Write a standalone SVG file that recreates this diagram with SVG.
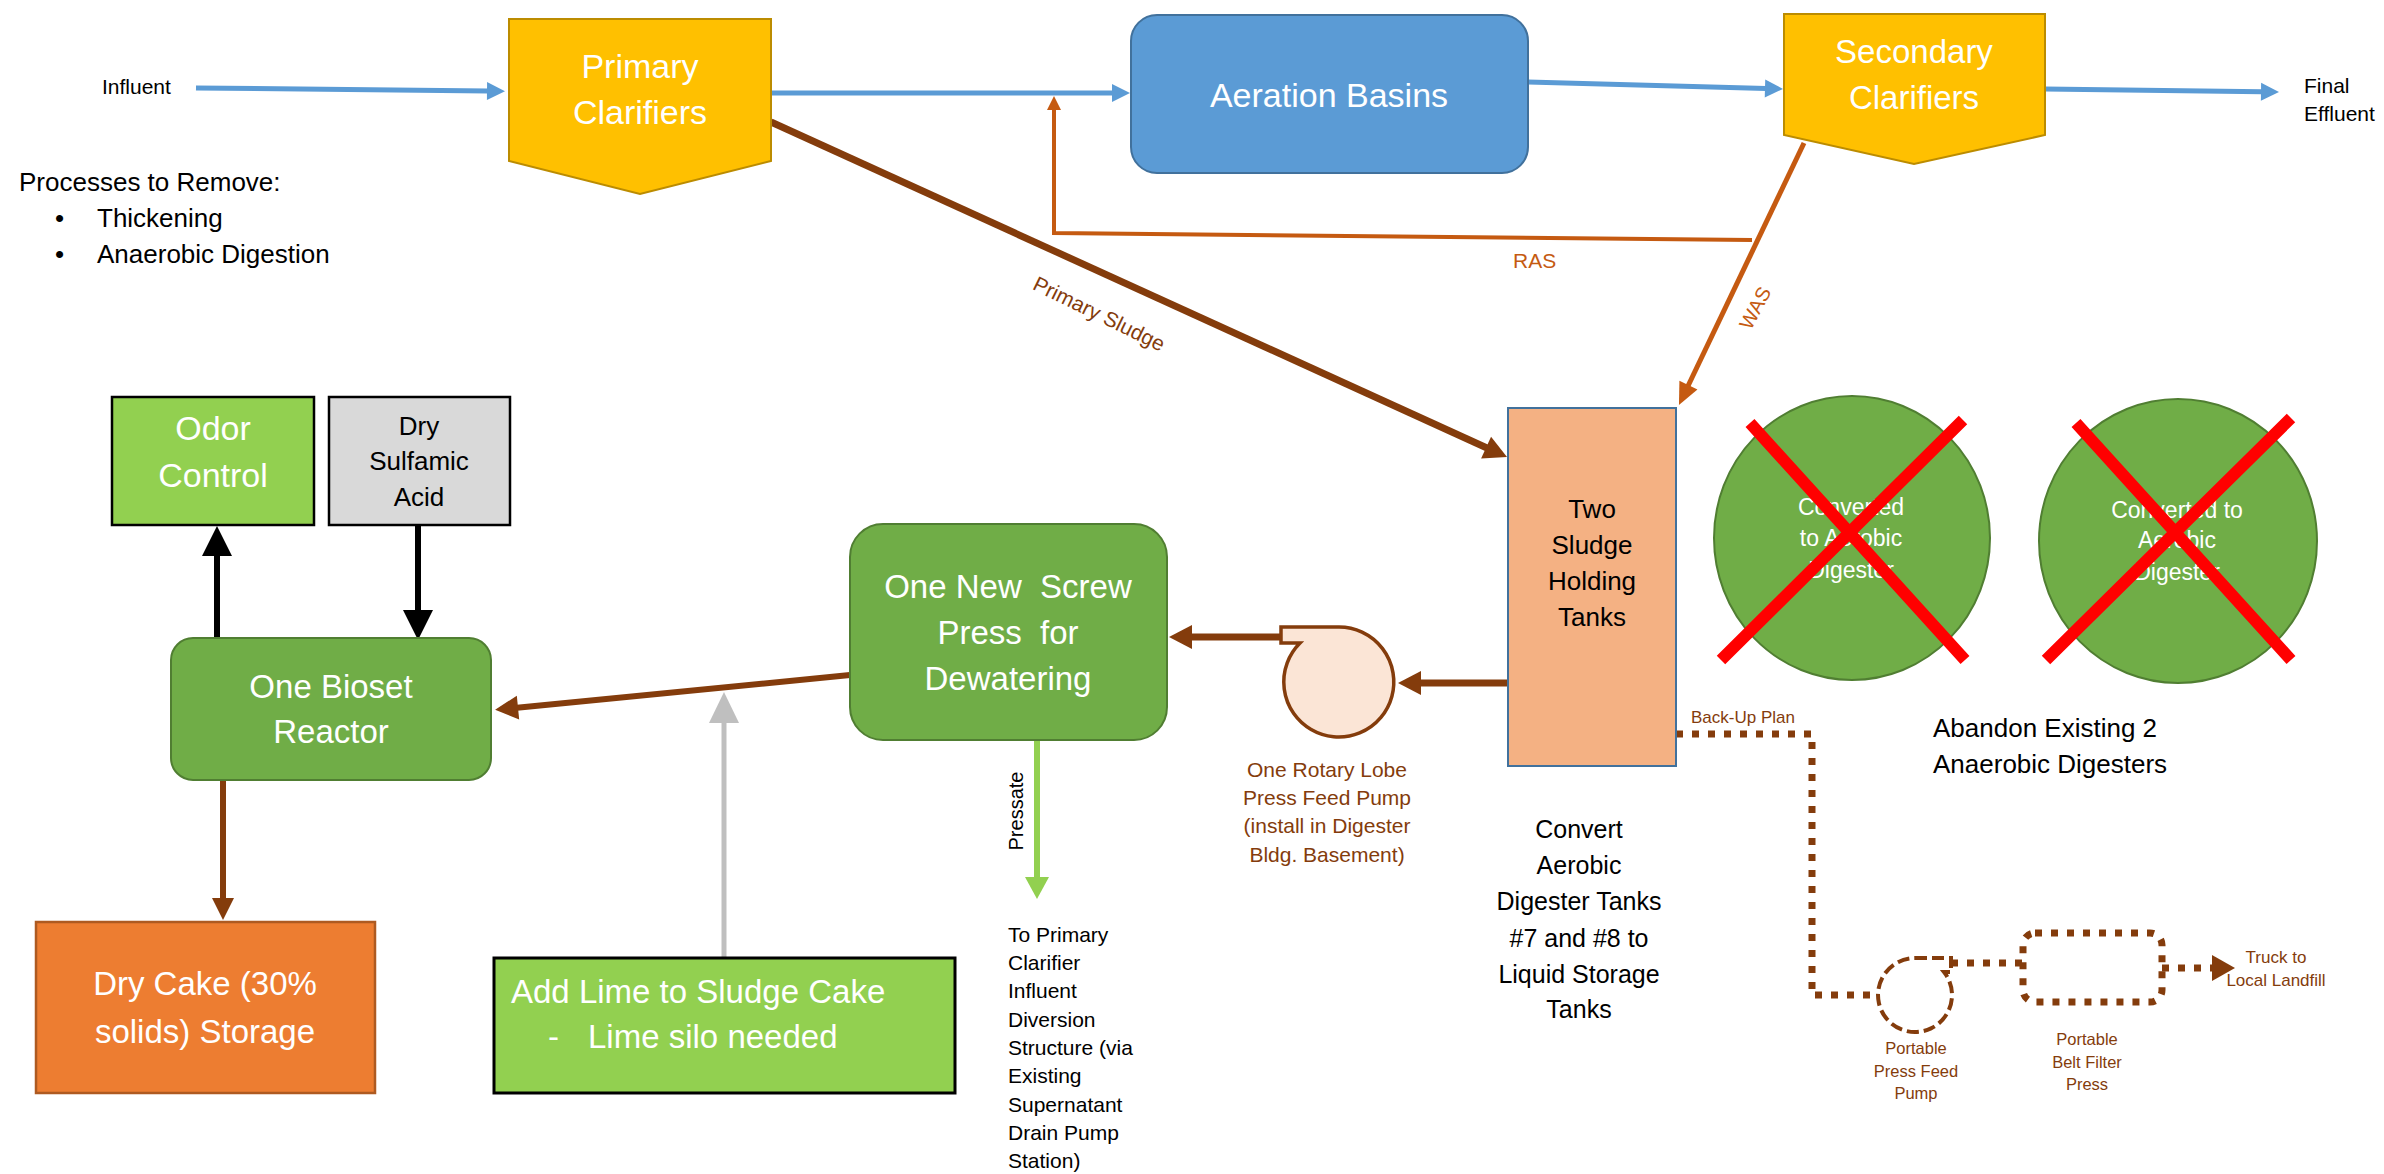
<svg xmlns="http://www.w3.org/2000/svg" width="2384" height="1174" viewBox="0 0 2384 1174">
<style>
text{font-family:"Liberation Sans",Arial,sans-serif;}
.w{fill:#fff;}
.k{fill:#000;}
.br{fill:#843C0C;}
.ras{fill:#C55A11;}
.mid{text-anchor:middle;}
.pre{white-space:pre;}
.blue{stroke:#5B9BD5;stroke-width:5;fill:none;}
.brl{stroke:#843C0C;stroke-width:7;fill:none;}
.orl{stroke:#C55A11;stroke-width:4;fill:none;}
.dot{stroke:#843C0C;stroke-width:7;fill:none;stroke-dasharray:7 9;}
</style>
<defs>
<marker id="mBlue" markerUnits="userSpaceOnUse" markerWidth="40" markerHeight="40" refX="1" refY="0" orient="auto" overflow="visible"><path d="M0,-9 L18,0 L0,9 Z" fill="#5B9BD5"/></marker>
<marker id="mRas" markerUnits="userSpaceOnUse" markerWidth="40" markerHeight="40" refX="1" refY="0" orient="auto" overflow="visible"><path d="M0,-7 L14,0 L0,7 Z" fill="#C55A11"/></marker>
<marker id="mWas" markerUnits="userSpaceOnUse" markerWidth="40" markerHeight="40" refX="1" refY="0" orient="auto" overflow="visible"><path d="M0,-10 L22,0 L0,10 Z" fill="#C55A11"/></marker>
<marker id="mBrown" markerUnits="userSpaceOnUse" markerWidth="40" markerHeight="40" refX="1" refY="0" orient="auto" overflow="visible"><path d="M0,-12 L23,0 L0,12 Z" fill="#843C0C"/></marker>
<marker id="mBrownS" markerUnits="userSpaceOnUse" markerWidth="40" markerHeight="40" refX="1" refY="0" orient="auto" overflow="visible"><path d="M0,-11 L22,0 L0,11 Z" fill="#843C0C"/></marker>
<marker id="mBrownD" markerUnits="userSpaceOnUse" markerWidth="40" markerHeight="40" refX="1" refY="0" orient="auto" overflow="visible"><path d="M0,-13 L23,0 L0,13 Z" fill="#843C0C"/></marker>
<marker id="mBlack" markerUnits="userSpaceOnUse" markerWidth="40" markerHeight="40" refX="1" refY="0" orient="auto" overflow="visible"><path d="M0,-15 L30,0 L0,15 Z" fill="#000"/></marker>
<marker id="mGray" markerUnits="userSpaceOnUse" markerWidth="40" markerHeight="40" refX="1" refY="0" orient="auto" overflow="visible"><path d="M0,-15 L31,0 L0,15 Z" fill="#BFBFBF"/></marker>
<marker id="mGreen" markerUnits="userSpaceOnUse" markerWidth="40" markerHeight="40" refX="1" refY="0" orient="auto" overflow="visible"><path d="M0,-12 L22,0 L0,12 Z" fill="#92D050"/></marker>
</defs>
<rect width="2384" height="1174" fill="#fff"/>

<g id="connectors">
  <path class="blue" d="M196,88 L488,91" marker-end="url(#mBlue)"/>
  <path class="blue" d="M771,93 L1113,93" marker-end="url(#mBlue)"/>
  <path class="blue" d="M1528,82 L1766,88.5" marker-end="url(#mBlue)"/>
  <path class="blue" d="M2045,89 L2262,91.8" marker-end="url(#mBlue)"/>
  <path class="brl" d="M771,122 L1487,448" marker-end="url(#mBrown)"/>
  <path class="orl" d="M1752,240 L1054,233 L1054,109" marker-end="url(#mRas)"/>
  <path class="orl" style="stroke-width:5" d="M1804,143 L1688,386" marker-end="url(#mWas)"/>
  <path class="brl" d="M1508,683 L1420,683" marker-end="url(#mBrown)"/>
  <path class="brl" d="M1281,637 L1191,637" marker-end="url(#mBrown)"/>
  <path class="brl" style="stroke-width:6" d="M850,675 L517,707.7" marker-end="url(#mBrown)"/>
  <path stroke="#000" stroke-width="6" fill="none" d="M217,638 L217,555" marker-end="url(#mBlack)"/>
  <path stroke="#000" stroke-width="6" fill="none" d="M418,525 L418,611" marker-end="url(#mBlack)"/>
  <path class="brl" style="stroke-width:6" d="M223,780 L223,899" marker-end="url(#mBrownS)"/>
  <path stroke="#BFBFBF" stroke-width="5" fill="none" d="M724,958 L724,722" marker-end="url(#mGray)"/>
  <path stroke="#92D050" stroke-width="6" fill="none" d="M1037,740 L1037,878" marker-end="url(#mGreen)"/>
  <path class="dot" d="M1676,734 L1812,734 L1812,995 L1877,995"/>
  <path class="dot" d="M1951,963 L2023,963"/>
  <path class="dot" d="M2162,968 L2213,968" marker-end="url(#mBrownD)"/>
  <text class="br" font-size="21" transform="translate(1099,314) rotate(26)" text-anchor="middle" y="7">Primary Sludge</text>
  <text class="ras" font-size="21" x="1513" y="268">RAS</text>
  <text class="ras" font-size="20" transform="translate(1755,308) rotate(-62)" text-anchor="middle" y="7">WAS</text>
  <text class="k" font-size="20" transform="translate(1023,811) rotate(-90)" text-anchor="middle">Pressate</text>
  <text class="br" font-size="17" x="1691" y="723">Back-Up Plan</text>
</g>

<g id="influent-label">
  <text class="k" font-size="21" x="102" y="94">Influent</text>
</g>
<g id="final-effluent-label">
  <text class="k" font-size="21" x="2304" y="93">Final</text>
  <text class="k" font-size="21" x="2304" y="121">Effluent</text>
</g>
<g id="processes-note">
  <text class="k" font-size="26" x="19" y="191">Processes to Remove:</text>
  <text class="k" font-size="26" x="55" y="227">•</text>
  <text class="k" font-size="26" x="97" y="227">Thickening</text>
  <text class="k" font-size="26" x="55" y="263">•</text>
  <text class="k" font-size="26" x="97" y="263">Anaerobic Digestion</text>
</g>

<g id="primary-clarifiers">
  <polygon points="509,19 771,19 771,161 640,194 509,161" fill="#FFC000" stroke="#BC8C00" stroke-width="2"/>
  <text class="w mid" font-size="34" x="640" y="78">Primary</text>
  <text class="w mid" font-size="34" x="640" y="124">Clarifiers</text>
</g>
<g id="aeration-basins">
  <rect x="1131" y="15" width="397" height="158" rx="26" fill="#5B9BD5" stroke="#41719C" stroke-width="2"/>
  <text class="w mid" font-size="34" x="1329" y="107">Aeration Basins</text>
</g>
<g id="secondary-clarifiers">
  <polygon points="1784,14 2045,14 2045,135 1914,164 1784,135" fill="#FFC000" stroke="#BC8C00" stroke-width="2"/>
  <text class="w mid" font-size="33" x="1914" y="63">Secondary</text>
  <text class="w mid" font-size="33" x="1914" y="109">Clarifiers</text>
</g>

<g id="odor-control">
  <rect x="112" y="397" width="202" height="128" fill="#92D050" stroke="#000" stroke-width="2.5"/>
  <text class="w mid" font-size="34" x="213" y="440">Odor</text>
  <text class="w mid" font-size="34" x="213" y="487">Control</text>
</g>
<g id="dry-sulfamic-acid">
  <rect x="329" y="397" width="181" height="128" fill="#D9D9D9" stroke="#000" stroke-width="2.5"/>
  <text class="k mid" font-size="26" x="419" y="435">Dry</text>
  <text class="k mid" font-size="26" x="419" y="470">Sulfamic</text>
  <text class="k mid" font-size="26" x="419" y="506">Acid</text>
</g>
<g id="bioset-reactor">
  <rect x="171" y="638" width="320" height="142" rx="22" fill="#70AD47" stroke="#507E32" stroke-width="2"/>
  <text class="w mid" font-size="33" x="331" y="698">One Bioset</text>
  <text class="w mid" font-size="33" x="331" y="743">Reactor</text>
</g>
<g id="screw-press">
  <rect x="850" y="524" width="317" height="216" rx="33" fill="#70AD47" stroke="#507E32" stroke-width="2"/>
  <text class="w mid pre" font-size="33" x="1008" y="598">One New  Screw</text>
  <text class="w mid pre" font-size="33" x="1008" y="644">Press  for</text>
  <text class="w mid" font-size="33" x="1008" y="690">Dewatering</text>
</g>
<g id="press-feed-pump">
  <path d="M1281,627 L1339,627 A55,55 0 1 1 1300,643 L1281,643 Z" fill="#FBE5D6" stroke="#843C0C" stroke-width="3.5"/>
  <text class="br mid" font-size="21" x="1327" y="777">One Rotary Lobe</text>
  <text class="br mid" font-size="21" x="1327" y="805">Press Feed Pump</text>
  <text class="br mid" font-size="21" x="1327" y="833">(install in Digester</text>
  <text class="br mid" font-size="21" x="1327" y="862">Bldg. Basement)</text>
</g>
<g id="sludge-holding-tanks">
  <rect x="1508" y="408" width="168" height="358" fill="#F4B183" stroke="#41719C" stroke-width="2"/>
  <text class="k mid" font-size="26" x="1592" y="518">Two</text>
  <text class="k mid" font-size="26" x="1592" y="554">Sludge</text>
  <text class="k mid" font-size="26" x="1592" y="590">Holding</text>
  <text class="k mid" font-size="26" x="1592" y="626">Tanks</text>
</g>
<g id="convert-note">
  <text class="k mid" font-size="25" x="1579" y="838">Convert</text>
  <text class="k mid" font-size="25" x="1579" y="874">Aerobic</text>
  <text class="k mid" font-size="25" x="1579" y="910">Digester Tanks</text>
  <text class="k mid" font-size="25" x="1579" y="947">#7 and #8 to</text>
  <text class="k mid" font-size="25" x="1579" y="983">Liquid Storage</text>
  <text class="k mid" font-size="25" x="1579" y="1018">Tanks</text>
</g>
<g id="digester-1">
  <ellipse cx="1852" cy="538" rx="138" ry="142" fill="#70AD47" stroke="#507E32" stroke-width="2"/>
  <text class="w mid" font-size="23" x="1851" y="515">Converted</text>
  <text class="w mid" font-size="23" x="1851" y="546">to Aerobic</text>
  <text class="w mid" font-size="23" x="1851" y="578">Digester</text>
  <path d="M1750,423 L1965,660 M1963,420 L1721,660" stroke="#FF0000" stroke-width="12"/>
</g>
<g id="digester-2">
  <ellipse cx="2178" cy="541" rx="139" ry="142" fill="#70AD47" stroke="#507E32" stroke-width="2"/>
  <text class="w mid" font-size="23" x="2177" y="518">Converted to</text>
  <text class="w mid" font-size="23" x="2177" y="548">Aerobic</text>
  <text class="w mid" font-size="23" x="2177" y="580">Digester</text>
  <path d="M2076,423 L2291,660 M2291,418 L2046,660" stroke="#FF0000" stroke-width="12"/>
</g>
<g id="abandon-note">
  <text class="k" font-size="26" x="1933" y="737">Abandon Existing 2</text>
  <text class="k" font-size="26" x="1933" y="773">Anaerobic Digesters</text>
</g>
<g id="dry-cake-storage">
  <rect x="36" y="922" width="339" height="171" fill="#ED7D31" stroke="#AE5A21" stroke-width="2.5"/>
  <text class="w mid" font-size="33" x="205" y="995">Dry Cake (30%</text>
  <text class="w mid" font-size="33" x="205" y="1043">solids) Storage</text>
</g>
<g id="add-lime">
  <rect x="494" y="958" width="461" height="135" fill="#92D050" stroke="#000" stroke-width="3"/>
  <text class="w" font-size="33" x="511" y="1003">Add Lime to Sludge Cake</text>
  <text class="w" font-size="33" x="548" y="1048">-</text>
  <text class="w" font-size="33" x="588" y="1048">Lime silo needed</text>
</g>
<g id="pressate-destination">
  <text class="k" font-size="21" x="1008" y="942">To Primary</text>
  <text class="k" font-size="21" x="1008" y="970">Clarifier</text>
  <text class="k" font-size="21" x="1008" y="998">Influent</text>
  <text class="k" font-size="21" x="1008" y="1027">Diversion</text>
  <text class="k" font-size="21" x="1008" y="1055">Structure (via</text>
  <text class="k" font-size="21" x="1008" y="1083">Existing</text>
  <text class="k" font-size="21" x="1008" y="1112">Supernatant</text>
  <text class="k" font-size="21" x="1008" y="1140">Drain Pump</text>
  <text class="k" font-size="21" x="1008" y="1168">Station)</text>
</g>
<g id="portable-pump">
  <path d="M1915,958 L1951,958 L1951,972 L1944,972 A37,37 0 1 1 1915,958 Z" fill="none" stroke="#843C0C" stroke-width="4" stroke-dasharray="12 5"/>
  <text class="br mid" font-size="16.5" x="1916" y="1054">Portable</text>
  <text class="br mid" font-size="16.5" x="1916" y="1077">Press Feed</text>
  <text class="br mid" font-size="16.5" x="1916" y="1099">Pump</text>
</g>
<g id="belt-filter-press">
  <rect x="2023" y="933" width="139" height="69" rx="12" class="dot"/>
  <text class="br mid" font-size="16.5" x="2087" y="1045">Portable</text>
  <text class="br mid" font-size="16.5" x="2087" y="1068">Belt Filter</text>
  <text class="br mid" font-size="16.5" x="2087" y="1090">Press</text>
</g>
<g id="truck-landfill">
  <text class="br mid" font-size="17" x="2276" y="963">Truck to</text>
  <text class="br mid" font-size="17" x="2276" y="986">Local Landfill</text>
</g>
</svg>
